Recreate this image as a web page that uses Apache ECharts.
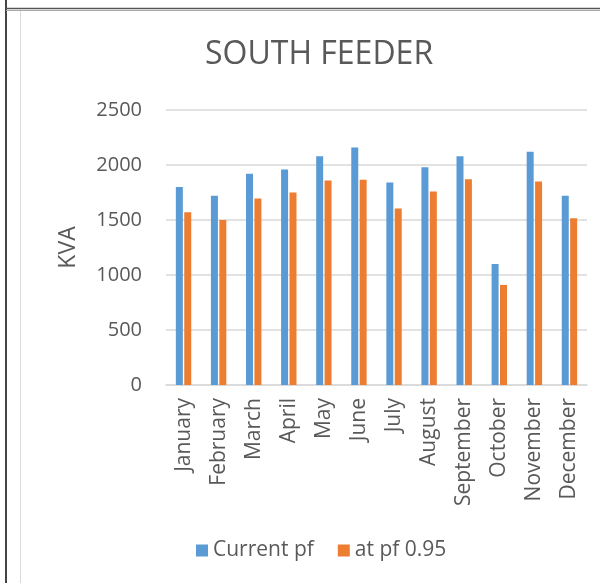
<!DOCTYPE html>
<html>
<head>
<meta charset="utf-8">
<script src="https://cdn.jsdelivr.net/npm/echarts@6/dist/echarts.min.js"></script>
<style>
  html, body { margin: 0; padding: 0; background: #fff; }
  #main { width: 600px; height: 583px; }
</style>
</head>
<body>
<div id="main"></div>
<script>
// 月份
var months = ['January', 'February', 'March', 'April', 'May', 'June', 'July',
  'August', 'September', 'October', 'November', 'December'];
// 当前功率因数下的KVA
var currentPf = [1800, 1720, 1920, 1960, 2080, 2160, 1840, 1980, 2080, 1100, 2120, 1720];
// pf 0.95 时的KVA
var atPf095 = [1570, 1500, 1695, 1750, 1860, 1865, 1605, 1760, 1870, 910, 1850, 1515];
var yTicks = [0, 500, 1000, 1500, 2000, 2500];

var font = 'Open Sans';
var txt = '#595959';

var chart = echarts.init(document.getElementById('main'));
var option = {
  animation: false,
  textStyle: { fontFamily: font },
  title: {
    text: 'SOUTH FEEDER',
    left: 200,
    top: 34,
    textStyle: { fontFamily: font, fontSize: 32, fontWeight: 'normal', color: txt }
  },
  // 外框线
  graphic: [
    { type: 'line', shape: { x1: 6, y1: 0, x2: 6, y2: 583 }, style: { stroke: '#444', lineWidth: 2 } },
    { type: 'line', shape: { x1: 6, y1: 8.5, x2: 600, y2: 8.5 }, style: { stroke: '#555', lineWidth: 1.5 } },
    { type: 'line', shape: { x1: 6, y1: 10.5, x2: 600, y2: 10.5 }, style: { stroke: '#aaa', lineWidth: 1 } },
    { type: 'line', shape: { x1: 20.5, y1: 11, x2: 20.5, y2: 583 }, style: { stroke: '#d9d9d9', lineWidth: 1 } }
  ],
  legend: {
    data: ['Current pf', 'at pf 0.95'],
    left: 191,
    top: 535,
    itemWidth: 12,
    itemHeight: 12,
    itemGap: 24,
    icon: 'rect',
    textStyle: { fontFamily: font, fontSize: 21, color: txt }
  },
  grid: { left: 166, right: 13, top: 110, bottom: 198 },
  xAxis: {
    type: 'category',
    data: months,
    axisLine: { lineStyle: { color: '#d9d9d9', width: 1.5 } },
    axisTick: { show: false },
    axisLabel: { rotate: 90, margin: 13, fontSize: 21, color: txt, fontFamily: font, interval: 0 }
  },
  yAxis: {
    type: 'value',
    name: 'KVA',
    nameLocation: 'middle',
    nameGap: 86,
    nameTextStyle: { fontFamily: font, fontSize: 23, color: txt },
    min: yTicks[0],
    max: yTicks[yTicks.length - 1],
    interval: 500,
    axisLine: { show: false },
    axisTick: { show: false },
    axisLabel: { margin: 24, fontSize: 20, color: txt, fontFamily: font, formatter: function (v) { return String(v); } },
    splitLine: { lineStyle: { color: '#d9d9d9', width: 1.5 } }
  },
  series: [
    {
      name: 'Current pf',
      type: 'bar',
      data: currentPf,
      barWidth: 7,
      barGap: '20%',
      itemStyle: { color: '#5b9bd5' }
    },
    {
      name: 'at pf 0.95',
      type: 'bar',
      data: atPf095,
      barWidth: 7,
      itemStyle: { color: '#ed7d31' }
    }
  ]
};
chart.setOption(option);
</script>
</body>
</html>
